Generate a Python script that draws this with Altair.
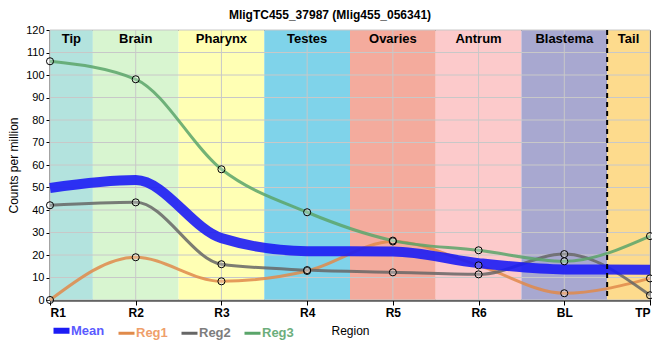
import altair as alt
import pandas as pd

regions = ["R1", "R2", "R3", "R4", "R5", "R6", "BL", "TP"]
bands = ["Tip", "Brain", "Pharynx", "Testes", "Ovaries", "Antrum", "Blastema", "Tail"]
band_colors = ["#b3e3de", "#d8f5d0", "#ffffb4", "#7fd3ea", "#f4ab9d", "#fccacb", "#a8a8d0", "#fddb8d"]

mean_vals = [49.8, 53.3, 27.5, 21.7, 21.6, 16.4, 13.6, 13.5]
reg1_vals = [0.0, 19.0, 8.3, 12.9, 26.0, 15.4, 3.0, 9.6]
reg2_vals = [42.1, 43.4, 15.9, 13.3, 12.3, 11.4, 20.4, 2.1]
reg3_vals = [106.1, 98.1, 58.1, 39.0, 26.4, 22.1, 17.2, 28.4]

series_names = ["Mean", "Reg1", "Reg2", "Reg3"]
series_colors = ["#1c1cf5", "#e08a4a", "#666666", "#5aa56a"]
label_colors = ["#5a5aff", "#ef9f6c", "#7d7d7d", "#6cae7c"]
y_ticks = list(range(0, 121, 10))
title_text = "MligTC455_37987 (Mlig455_056341)"

FONT = "Liberation Sans"
n = len(regions)

# long-form data
rows = []
for name, vals in zip(series_names, [mean_vals, reg1_vals, reg2_vals, reg3_vals]):
    for i, v in enumerate(vals):
        rows.append({"series": name, "idx": i, "region": regions[i], "value": v})
df = pd.DataFrame(rows)
df_mean = df[df.series == "Mean"]
df_reg = df[df.series != "Mean"]

band_df = pd.DataFrame({
    "band": bands,
    "x0": [max(i - 0.5, 0) for i in range(n)],
    "x1": [min(i + 0.5, n - 1) for i in range(n)],
})
band_df["xc"] = (band_df.x0 + band_df.x1) / 2
tail_edge = pd.DataFrame({"x": [band_df.x0.iloc[-1]]})

ygrid = pd.DataFrame({"y": y_ticks})
xgrid = pd.DataFrame({"x": list(range(n))})

label_expr = "[" + ",".join("'%s'" % r for r in regions) + "][datum.value]"

xscale = alt.Scale(domain=[0, n - 1], nice=False, zero=False)
yscale = alt.Scale(domain=[0, 120], nice=False)

x_axis = alt.Axis(values=list(range(n)), labelExpr=label_expr, grid=False,
                  labelFontWeight="bold", labelFontSize=12, labelColor="black",
                  tickSize=5, tickColor="black", labelPadding=2,
                  domainColor="black", domainWidth=2,
                  title="Region", titleFontSize=12, titleFontWeight="normal",
                  titlePadding=7, titleColor="black")
y_axis = alt.Axis(values=y_ticks, grid=False, labelFontSize=11, labelColor="black",
                  tickSize=4, tickColor="black", labelPadding=2,
                  domainColor="black", domainWidth=2,
                  title="Counts per million", titleFontSize=12, titleFontWeight="normal",
                  titlePadding=5, titleColor="black")

X = lambda f: alt.X(f, type="quantitative", scale=xscale, axis=x_axis, title="Region")
Y = lambda f: alt.Y(f, type="quantitative", scale=yscale, axis=y_axis, title="Counts per million")

bands_layer = alt.Chart(band_df).mark_rect(opacity=1).encode(
    x=X("x0"), x2="x1",
    y=alt.datum(120, scale=yscale, axis=y_axis, title="Counts per million"), y2=alt.datum(0),
    fill=alt.Fill("band:N", scale=alt.Scale(domain=bands, range=band_colors), legend=None),
)

ygrid_layer = alt.Chart(ygrid).mark_rule(color="#c8c8c8", strokeWidth=1).encode(y=Y("y"))
xgrid_layer = alt.Chart(xgrid).mark_rule(color="#c8c8c8", strokeWidth=1).encode(x=X("x"))

band_text = alt.Chart(band_df).mark_text(font=FONT, fontSize=13, fontWeight="bold",
                                         color="black", baseline="middle", dy=9).encode(
    x=X("xc"), y=alt.datum(120, scale=yscale, axis=y_axis, title="Counts per million"),
    text="band:N",
)

legend = alt.Legend(
    orient="none", legendX=5, legendY=294, direction="horizontal", title=None,
    symbolType="stroke", symbolSize=256,
    symbolStrokeWidth=alt.ExprRef(expr="datum.label == 'Mean' ? 6 : 3"),
    labelColor=alt.ExprRef(expr="[" + ",".join("'%s'" % c for c in label_colors) + "][indexof(" +
                           "[" + ",".join("'%s'" % s for s in series_names) + "], datum.label)]"),
    labelFont=FONT, labelFontSize=13, labelFontWeight="bold", labelOffset=3,
    columnPadding=7, symbolOpacity=1,
)
color_enc = alt.Color("series:N", scale=alt.Scale(domain=series_names, range=series_colors),
                      legend=legend)

reg_lines = alt.Chart(df_reg).mark_line(interpolate="monotone", strokeWidth=3, opacity=0.85).encode(
    x=X("idx"), y=Y("value"), color=color_enc, detail="series:N",
)
mean_line = alt.Chart(df_mean).mark_line(interpolate="monotone", strokeWidth=10, opacity=0.9,
                                         strokeCap="butt").encode(
    x=X("idx"), y=Y("value"), color=color_enc,
)
points = alt.Chart(df_reg).mark_point(shape="circle", size=50, filled=False, stroke="black",
                                      strokeWidth=1, fill="white", fillOpacity=0.25, opacity=1).encode(
    x=X("idx"), y=Y("value"),
)
dashed = alt.Chart(tail_edge).mark_rule(color="black", strokeWidth=2, strokeDash=[5, 4]).encode(
    x=X("x"),
)

chart = alt.layer(
    bands_layer, ygrid_layer, xgrid_layer, band_text, reg_lines, mean_line, points, dashed
).properties(
    width=600, height=270,
    padding={"left": 42, "top": 22, "right": 2, "bottom": 50},
    autosize=alt.AutoSizeParams(type="none"),
    title=alt.Title(title_text, fontSize=12, fontWeight="bold", font=FONT, color="black",
                    anchor="middle", frame="group", dx=-20, offset=2),
).configure(font=FONT).configure_view(stroke="black", strokeWidth=1)

chart.save("out.html", embed_options={"renderer": "svg", "actions": False})
